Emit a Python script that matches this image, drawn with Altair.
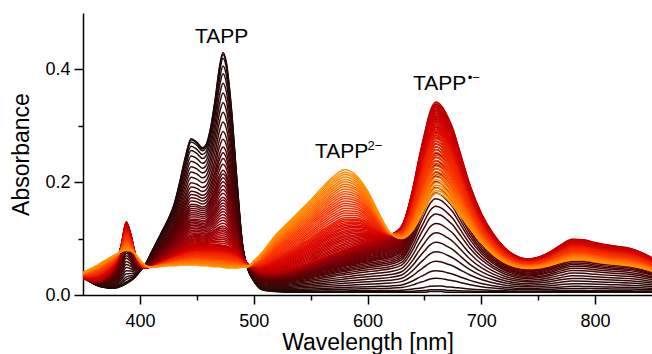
import altair as alt
import pandas as pd

# ---------------- data ----------------
wavelength = [350, 355, 360, 365, 370, 375, 380, 384, 388, 392, 396, 400, 405, 410,
              415, 420, 425, 430, 435, 440, 445, 450, 455, 458, 462, 466, 470, 473,
              476, 480, 485, 490, 495, 500, 505, 510, 520, 530, 540, 550, 560, 570,
              580, 590, 600, 610, 620, 630, 640, 645, 650, 655, 660, 665, 670, 675,
              680, 690, 700, 710, 720, 730, 740, 750, 760, 770, 780, 790, 800, 810,
              820, 830, 840, 850]

# neutral TAPP (first, black curve)
tapp = [0.032, 0.025, 0.019, 0.015, 0.013, 0.012, 0.013, 0.016, 0.020, 0.025, 0.032, 0.042,
        0.055, 0.075, 0.095, 0.115, 0.135, 0.160, 0.200, 0.245, 0.277, 0.271, 0.261, 0.266,
        0.295, 0.345, 0.405, 0.430, 0.412, 0.340, 0.210, 0.092, 0.045, 0.025, 0.012, 0.008,
        0.006, 0.005, 0.005, 0.005, 0.005, 0.005, 0.005, 0.005, 0.005, 0.005, 0.005, 0.005,
        0.005, 0.005, 0.005, 0.006, 0.006, 0.006, 0.005, 0.005, 0.005, 0.005, 0.005, 0.005,
        0.005, 0.005, 0.005, 0.005, 0.005, 0.005, 0.005, 0.005, 0.005, 0.005, 0.005, 0.005,
        0.005, 0.005]

# radical anion TAPP.- (red curve, end of first step)
tapp_radical = [0.030, 0.026, 0.025, 0.027, 0.033, 0.043, 0.060, 0.092, 0.130, 0.108, 0.072,
                0.053, 0.048, 0.050, 0.055, 0.061, 0.067, 0.073, 0.078, 0.083, 0.087, 0.089,
                0.089, 0.089, 0.090, 0.090, 0.089, 0.088, 0.087, 0.084, 0.078, 0.066, 0.055,
                0.047, 0.042, 0.040, 0.040, 0.044, 0.050, 0.057, 0.065, 0.073, 0.080, 0.087,
                0.093, 0.099, 0.106, 0.122, 0.190, 0.240, 0.285, 0.325, 0.342, 0.335, 0.318,
                0.295, 0.262, 0.195, 0.145, 0.110, 0.085, 0.070, 0.064, 0.067, 0.076, 0.089,
                0.099, 0.098, 0.093, 0.089, 0.086, 0.083, 0.076, 0.066]

# dianion TAPP2- (orange curve, last)
tapp_dianion = [0.040, 0.045, 0.050, 0.056, 0.062, 0.068, 0.073, 0.077, 0.079, 0.078, 0.072,
                0.062, 0.052, 0.049, 0.050, 0.051, 0.052, 0.052, 0.053, 0.053, 0.053, 0.053,
                0.052, 0.052, 0.051, 0.050, 0.050, 0.049, 0.048, 0.048, 0.048, 0.049, 0.050,
                0.060, 0.070, 0.082, 0.108, 0.128, 0.148, 0.168, 0.190, 0.210, 0.222, 0.212,
                0.185, 0.145, 0.110, 0.100, 0.115, 0.132, 0.152, 0.170, 0.180, 0.178, 0.170,
                0.158, 0.145, 0.118, 0.092, 0.072, 0.058, 0.050, 0.047, 0.048, 0.052, 0.058,
                0.062, 0.062, 0.059, 0.056, 0.054, 0.052, 0.048, 0.042]

# share of the radical in each curve of the first reduction step
step1_share = [0.0, 0.01, 0.03, 0.07, 0.11, 0.16, 0.21, 0.26, 0.31, 0.36, 0.41, 0.45, 0.49,
               0.52, 0.55, 0.58, 0.61, 0.63, 0.65, 0.67, 0.69, 0.71, 0.73, 0.75, 0.765,
               0.78, 0.795, 0.81, 0.825, 0.84, 0.855, 0.87, 0.885, 0.90, 0.91, 0.92, 0.93,
               0.94, 0.95, 0.96, 0.97, 0.98, 0.99, 1.0]
# share of the dianion in each curve of the second reduction step
step2_share = [0.02, 0.04, 0.06, 0.08, 0.10, 0.12, 0.14, 0.16, 0.18, 0.20, 0.22, 0.24, 0.26,
               0.28, 0.30, 0.32, 0.34, 0.36, 0.38, 0.40, 0.43, 0.46, 0.49, 0.52, 0.55, 0.58,
               0.61, 0.64, 0.67, 0.70, 0.73, 0.76, 0.79, 0.82, 0.85, 0.88, 0.91, 0.94, 0.97,
               1.0]

x_ticks = [400, 500, 600, 700, 800]
x_minor = [450, 550, 650, 750]
y_ticks = [0.0, 0.2, 0.4]
y_minor = [0.1, 0.3]

label_text = ["TAPP", "TAPP", "TAPP"]
label_wl = [448.4, 553.9, 640.0]
label_abs = [0.4468, 0.2429, 0.3635]
sup_text = ["2\u2212", "\u2022\u2212"]
sup_wl = [600.0, 688.0]
sup_abs = [0.257, 0.3777]

# ---------------- table ----------------
rows = []
k = 0
for r in step1_share:
    for w, a, b in zip(wavelength, tapp, tapp_radical):
        rows.append({"curve": f"c{k:03d}", "step": k, "wl": w, "abs": (1 - r) * a + r * b})
    k += 1
for d in step2_share:
    for w, a, b in zip(wavelength, tapp_radical, tapp_dianion):
        rows.append({"curve": f"c{k:03d}", "step": k, "wl": w, "abs": (1 - d) * a + d * b})
    k += 1
spectra = pd.DataFrame(rows)
n_steps = k - 1
n1 = len(step1_share) - 1

labels = pd.DataFrame({"t": label_text, "wl": label_wl, "abs": label_abs})
sups = pd.DataFrame({"t": sup_text, "wl": sup_wl, "abs": sup_abs})

FONT = "Liberation Sans"
xscale = alt.Scale(domain=[350, 850], nice=False, zero=False)
yscale = alt.Scale(domain=[0, 0.5], nice=False, zero=False)

common_axis = dict(domainColor="black", domainWidth=1.5, tickColor="black", tickWidth=1.5,
                   labelColor="black", labelFont=FONT, labelFontSize=18, grid=False,
                   titleFont=FONT, titleFontSize=23, titleFontWeight="normal",
                   titleColor="black")

lines = alt.Chart(spectra).mark_line(strokeWidth=1.5, interpolate="monotone", clip=True).encode(
    x=alt.X("wl:Q", scale=xscale,
            axis=alt.Axis(values=x_ticks, tickSize=9, labelPadding=8, format="d",
                          orient="bottom",
                          title="Wavelength [nm]", titleX=284.5, titleY=54.3,
                          titleBaseline="alphabetic", titleAnchor="middle",
                          labelFlush=False, **common_axis)),
    y=alt.Y("abs:Q", scale=yscale,
            axis=alt.Axis(values=y_ticks, tickSize=9, labelPadding=4, format=".1f",
                          orient="left",
                          title="Absorbance", titleX=-55, titleY=141, titleAngle=-90,
                          titleBaseline="alphabetic", titleAlign="center",
                          labelFlush=False, **common_axis)),
    color=alt.Color("step:Q",
                    scale=alt.Scale(domain=[0, 12, n1, n1 + 15, n1 + 28, n_steps],
                                    range=["#1a0606", "#4a0303", "#b80000", "#e00800",
                                           "#ff3a00", "#ff9200"]),
                    legend=None),
    detail="curve:N",
)

minor = alt.Chart(pd.DataFrame({"wl": x_minor[:1], "abs": y_minor[:1]})).mark_point(opacity=0).encode(
    x=alt.X("wl:Q", scale=xscale,
            axis=alt.Axis(values=x_minor, tickSize=5, labels=False, domain=False, title=None,
                          orient="bottom", tickColor="black", tickWidth=1.5, grid=False)),
    y=alt.Y("abs:Q", scale=yscale,
            axis=alt.Axis(values=y_minor, tickSize=5, labels=False, domain=False, title=None,
                          orient="left", tickColor="black", tickWidth=1.5, grid=False)),
)

main_labels = alt.Chart(labels).mark_text(
    font=FONT, fontSize=21, align="left", baseline="alphabetic", color="black"
).encode(
    x=alt.X("wl:Q", scale=xscale, axis=None),
    y=alt.Y("abs:Q", scale=yscale, axis=None),
    text="t:N",
)

sup_labels = alt.Chart(sups).mark_text(
    font=FONT, fontSize=13, align="left", baseline="alphabetic", color="black"
).encode(
    x=alt.X("wl:Q", scale=xscale, axis=None),
    y=alt.Y("abs:Q", scale=yscale, axis=None),
    text="t:N",
)

chart = alt.layer(lines, minor, main_labels, sup_labels).resolve_scale(
    x="shared", y="shared"
).resolve_axis(
    x="independent", y="independent"
).properties(
    width=569, height=282,
    padding={"left": 83, "top": 13, "right": 0, "bottom": 59},
    autosize=alt.AutoSizeParams(type="none"),
).configure_view(stroke=None)

chart.save("out.html", embed_options={"renderer": "svg", "actions": False})
